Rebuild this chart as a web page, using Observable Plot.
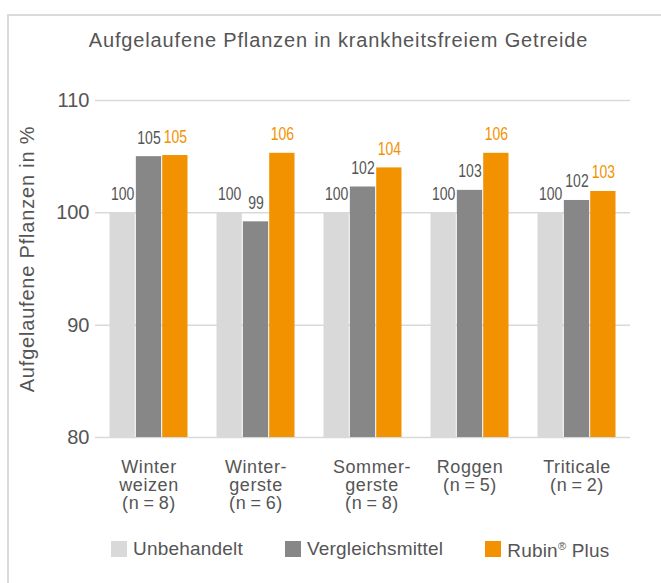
<!DOCTYPE html>
<html><head><meta charset="utf-8">
<script src="https://cdn.jsdelivr.net/npm/d3@7"></script>
<script src="https://cdn.jsdelivr.net/npm/@observablehq/plot@0.6"></script>
<style>
body{margin:0;background:#fff;font-family:"Liberation Sans",Arial,Helvetica,sans-serif;color:#555}
#wrap{position:relative;width:661px;height:583px;overflow:hidden}
#frame{position:absolute;left:7px;top:14px;width:700px;height:600px;border-top:2px solid #dadada;border-left:2px solid #dadada;box-sizing:border-box}
#title{position:absolute;top:29px;left:0;width:677px;text-align:center;font-size:20px;letter-spacing:0.85px;white-space:nowrap}
#chart{position:absolute;left:0;top:0}
#legend{position:absolute;left:111px;top:535px;display:flex;gap:42px;font-size:19px;line-height:22px;letter-spacing:0.2px}
.item{display:flex;align-items:center;gap:6px}
.sw{width:16px;height:16px;flex:none}
#chart svg [aria-label="fx-axis tick label"] text{letter-spacing:0.6px}
#chart svg [aria-label="y-axis label"] text{letter-spacing:0.8px}
</style></head><body>
<div id="wrap"><div id="frame"></div><div id="title"></div><div id="chart"></div><div id="legend"></div></div>
<script>
const title = "Aufgelaufene Pflanzen in krankheitsfreiem Getreide";
const yLabel = "Aufgelaufene Pflanzen in %";
const categories = ["Winter\nweizen\n(n\u2009=\u20098)", "Winter-\ngerste\n(n\u2009=\u20096)", "Sommer-\ngerste\n(n\u2009=\u20098)", "Roggen\n(n\u2009=\u20095)", "Triticale\n(n\u2009=\u20092)"];
const series = ["Unbehandelt", "Vergleichsmittel", "Rubin® Plus"];
const seriesColors = ["#d9d9d9", "#878787", "#f39200"];
const labelColors = ["#555555", "#555555", "#f39200"];
// bar heights
const unbehandelt = [100, 100, 100, 100, 100];
const vergleichsmittel = [105.0, 99.2, 102.3, 102.0, 101.1];
const rubinPlus = [105.1, 105.3, 104.0, 105.3, 101.9];
// printed value labels
const labelsUnbehandelt = ["100", "100", "100", "100", "100"];
const labelsVergleichsmittel = ["105", "99", "102", "103", "102"];
const labelsRubinPlus = ["105", "106", "104", "106", "103"];
const yTicks = [80, 90, 100, 110];
const yDomain = [80, 110];

const values = [unbehandelt, vergleichsmittel, rubinPlus];
const labels = [labelsUnbehandelt, labelsVergleichsmittel, labelsRubinPlus];
const data = [];
categories.forEach((c, i) => series.forEach((s, j) => data.push({
  category: c, series: s, value: values[j][i], label: labels[j][i],
  fill: seriesColors[j], textFill: labelColors[j]
})));

document.getElementById("title").textContent = title;

const chart = Plot.plot({
  width: 661, height: 520,
  marginTop: 100, marginBottom: 83, marginLeft: 95, marginRight: 31,
  style: {fontFamily: '"Liberation Sans", Arial, Helvetica, sans-serif', fontSize: "18px", color: "#555", background: "transparent", overflow: "visible"},
  fx: {domain: categories, padding: 0, label: null},
  x: {domain: series, paddingInner: 0.04, paddingOuter: 0.55, round: false, axis: null},
  y: {domain: yDomain, ticks: yTicks},
  marks: [
    Plot.gridY(yTicks, {stroke: "#d9d9d9", strokeOpacity: 1, strokeWidth: 1.5}),
    Plot.barY(data, {fx: "category", x: "series", y1: yDomain[0], y2: "value", fill: d => d.fill}),
    Plot.text(data, {fx: "category", x: "series", y: "value", text: "label", fill: d => d.textFill,
      lineAnchor: "bottom", dy: -13, fontSize: 17.5, className: "vlabel"}),
    Plot.axisY(yTicks, {tickSize: 0, tickPadding: 6, fontSize: 20, label: yLabel, labelAnchor: "center", labelArrow: "none", labelOffset: 76}),
    Plot.axisFx({anchor: "bottom", tickSize: 0, tickPadding: 22, fontSize: 18, lineHeight: 1.02, label: null})
  ]
});
function shiftText(t, prefix, suffix) {
  const tr = t.getAttribute("transform");
  if (tr) {
    t.setAttribute("transform", prefix + tr + suffix);
  } else {
    const x = +t.getAttribute("x") || 0, y = +t.getAttribute("y") || 0;
    t.setAttribute("x", 0); t.setAttribute("y", 0);
    t.setAttribute("transform", `${prefix}translate(${x},${y})${suffix}`);
  }
}
// condense the value labels horizontally (the reference uses a narrow face)
chart.querySelectorAll(".vlabel text").forEach(t => shiftText(t, "", " scale(0.8,1)"));
// y-axis title sits a little above the plot centre in the reference
chart.querySelectorAll('[aria-label="y-axis label"] text').forEach(t => shiftText(t, "translate(0,-10) ", ""));
// third category label is set slightly right of its group in the reference
const fxTicks = chart.querySelectorAll('[aria-label="fx-axis tick label"] text');
if (fxTicks[2]) shiftText(fxTicks[2], "translate(9,0) ", "");
document.getElementById("chart").append(chart);

const legend = document.getElementById("legend");
series.forEach((s, j) => {
  const item = document.createElement("div");
  item.className = "item";
  const sw = document.createElement("div");
  sw.className = "sw"; sw.style.background = seriesColors[j];
  const t = document.createElement("span");
  t.innerHTML = s.replace("®", '<sup style="font-size:11px;vertical-align:7px">®</sup>');
  item.append(sw, t);
  legend.append(item);
});
</script>
</body></html>
